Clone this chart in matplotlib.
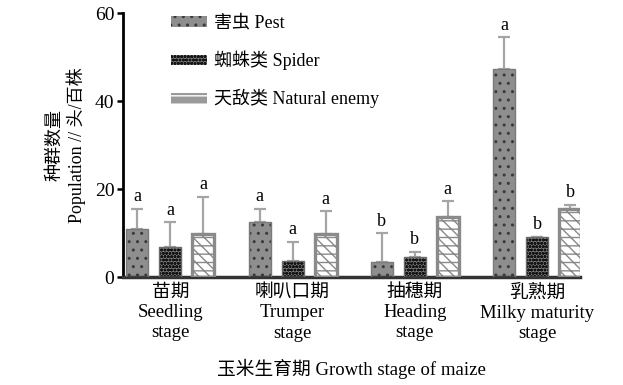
import matplotlib
matplotlib.use('Agg')
import matplotlib.pyplot as plt
from matplotlib.patches import Patch
import numpy as np

plt.rcParams['font.family'] = ['Liberation Serif', 'Noto Sans CJK SC']
plt.rcParams['hatch.linewidth'] = 1.0

# 生育期
stages = ['苗期\nSeedling\nstage', '喇叭口期\nTrumper\nstage',
          '抽穗期\nHeading\nstage', '乳熟期\nMilky maturity\nstage']
series = ['害虫 Pest', '蜘蛛类 Spider', '天敌类 Natural enemy']

# 平均値と誤差の上端
pest = [10.9, 12.5, 3.4, 47.3]
pest_err = [4.6, 3.0, 6.6, 7.2]
spider = [6.8, 3.6, 4.6, 9.2]
spider_err = [5.7, 4.4, 1.1, 0.0]
natural = [9.8, 9.8, 13.7, 15.4]
natural_err = [8.4, 5.2, 3.5, 1.0]
letters = [['a', 'a', 'a'], ['a', 'a', 'a'], ['b', 'b', 'a'], ['a', 'b', 'b']]

fig = plt.figure(figsize=(6.23, 3.85), dpi=100)
ax = fig.add_axes([0.197, 0.2805, 0.734, 0.6855])

x = np.arange(len(stages))
off = 0.27
w = 0.18
styles = [
    dict(face='#8e8e8e', hatch='..', hcol='#3a3a3a', edge='#7a7a7a', lw=1.0),
    dict(face='#808080', hatch='ooooo', hcol='#151515', edge='#6a6a6a', lw=1.0),
    dict(face='white', hatch='--\\\\\\', hcol='#8a8a8a', edge='#8a8a8a', lw=2.4),
]
data = [(pest, pest_err), (spider, spider_err), (natural, natural_err)]

for i, ((vals, errs), st) in enumerate(zip(data, styles)):
    pos = x + (i - 1) * off
    # 模様
    ax.bar(pos, vals, w, color=st['face'], edgecolor=st['hcol'],
           hatch=st['hatch'], linewidth=0, zorder=2)
    # 枠
    ax.bar(pos, vals, w, fill=False, edgecolor=st['edge'],
           linewidth=st['lw'], zorder=3)
    ax.errorbar(pos, vals, yerr=[np.zeros(len(vals)), errs], fmt='none',
                ecolor='#a5a5a5', elinewidth=1.6, capsize=4, capthick=1.6,
                zorder=1)
    for j in range(len(vals)):
        ax.text(pos[j], vals[j] + errs[j] + 0.8, letters[j][i],
                ha='center', va='bottom', fontsize=13)

ax.set_xlim(-0.39, 3.352)
ax.set_ylim(0, 60)
ax.set_yticks([0, 20, 40, 60])
ax.set_xticks(x)
ax.set_xticklabels(stages, fontsize=13.5, linespacing=1.25)
ax.tick_params(axis='x', length=0, pad=5)
ax.tick_params(axis='y', direction='out', length=4, width=1.8,
               labelsize=14, pad=2)
for s in ['top', 'right']:
    ax.spines[s].set_visible(False)
ax.spines['left'].set_linewidth(2)
ax.spines['bottom'].set_linewidth(2.5)
ax.spines['bottom'].set_color('#333333')

ax.set_ylabel('种群数量\nPopulation // 头/百株', fontsize=13, linespacing=1.2,
              labelpad=6)
ax.set_xlabel('玉米生育期 Growth stage of maize', fontsize=13.5, labelpad=12)

handles = []
for st in styles:
    handles.append(Patch(facecolor=st['face'], edgecolor=st['hcol'],
                         hatch=st['hatch'], linewidth=0))
handles[2] = Patch(facecolor='#9a9a9a', edgecolor='white', hatch='--',
                   linewidth=0)
ax.legend(handles, series, loc='upper left', bbox_to_anchor=(0.07, 1.055),
          frameon=False, fontsize=13, handlelength=2.0, handleheight=0.55,
          labelspacing=1.05, handletextpad=0.4)

fig.savefig('out.png', dpi=100)
